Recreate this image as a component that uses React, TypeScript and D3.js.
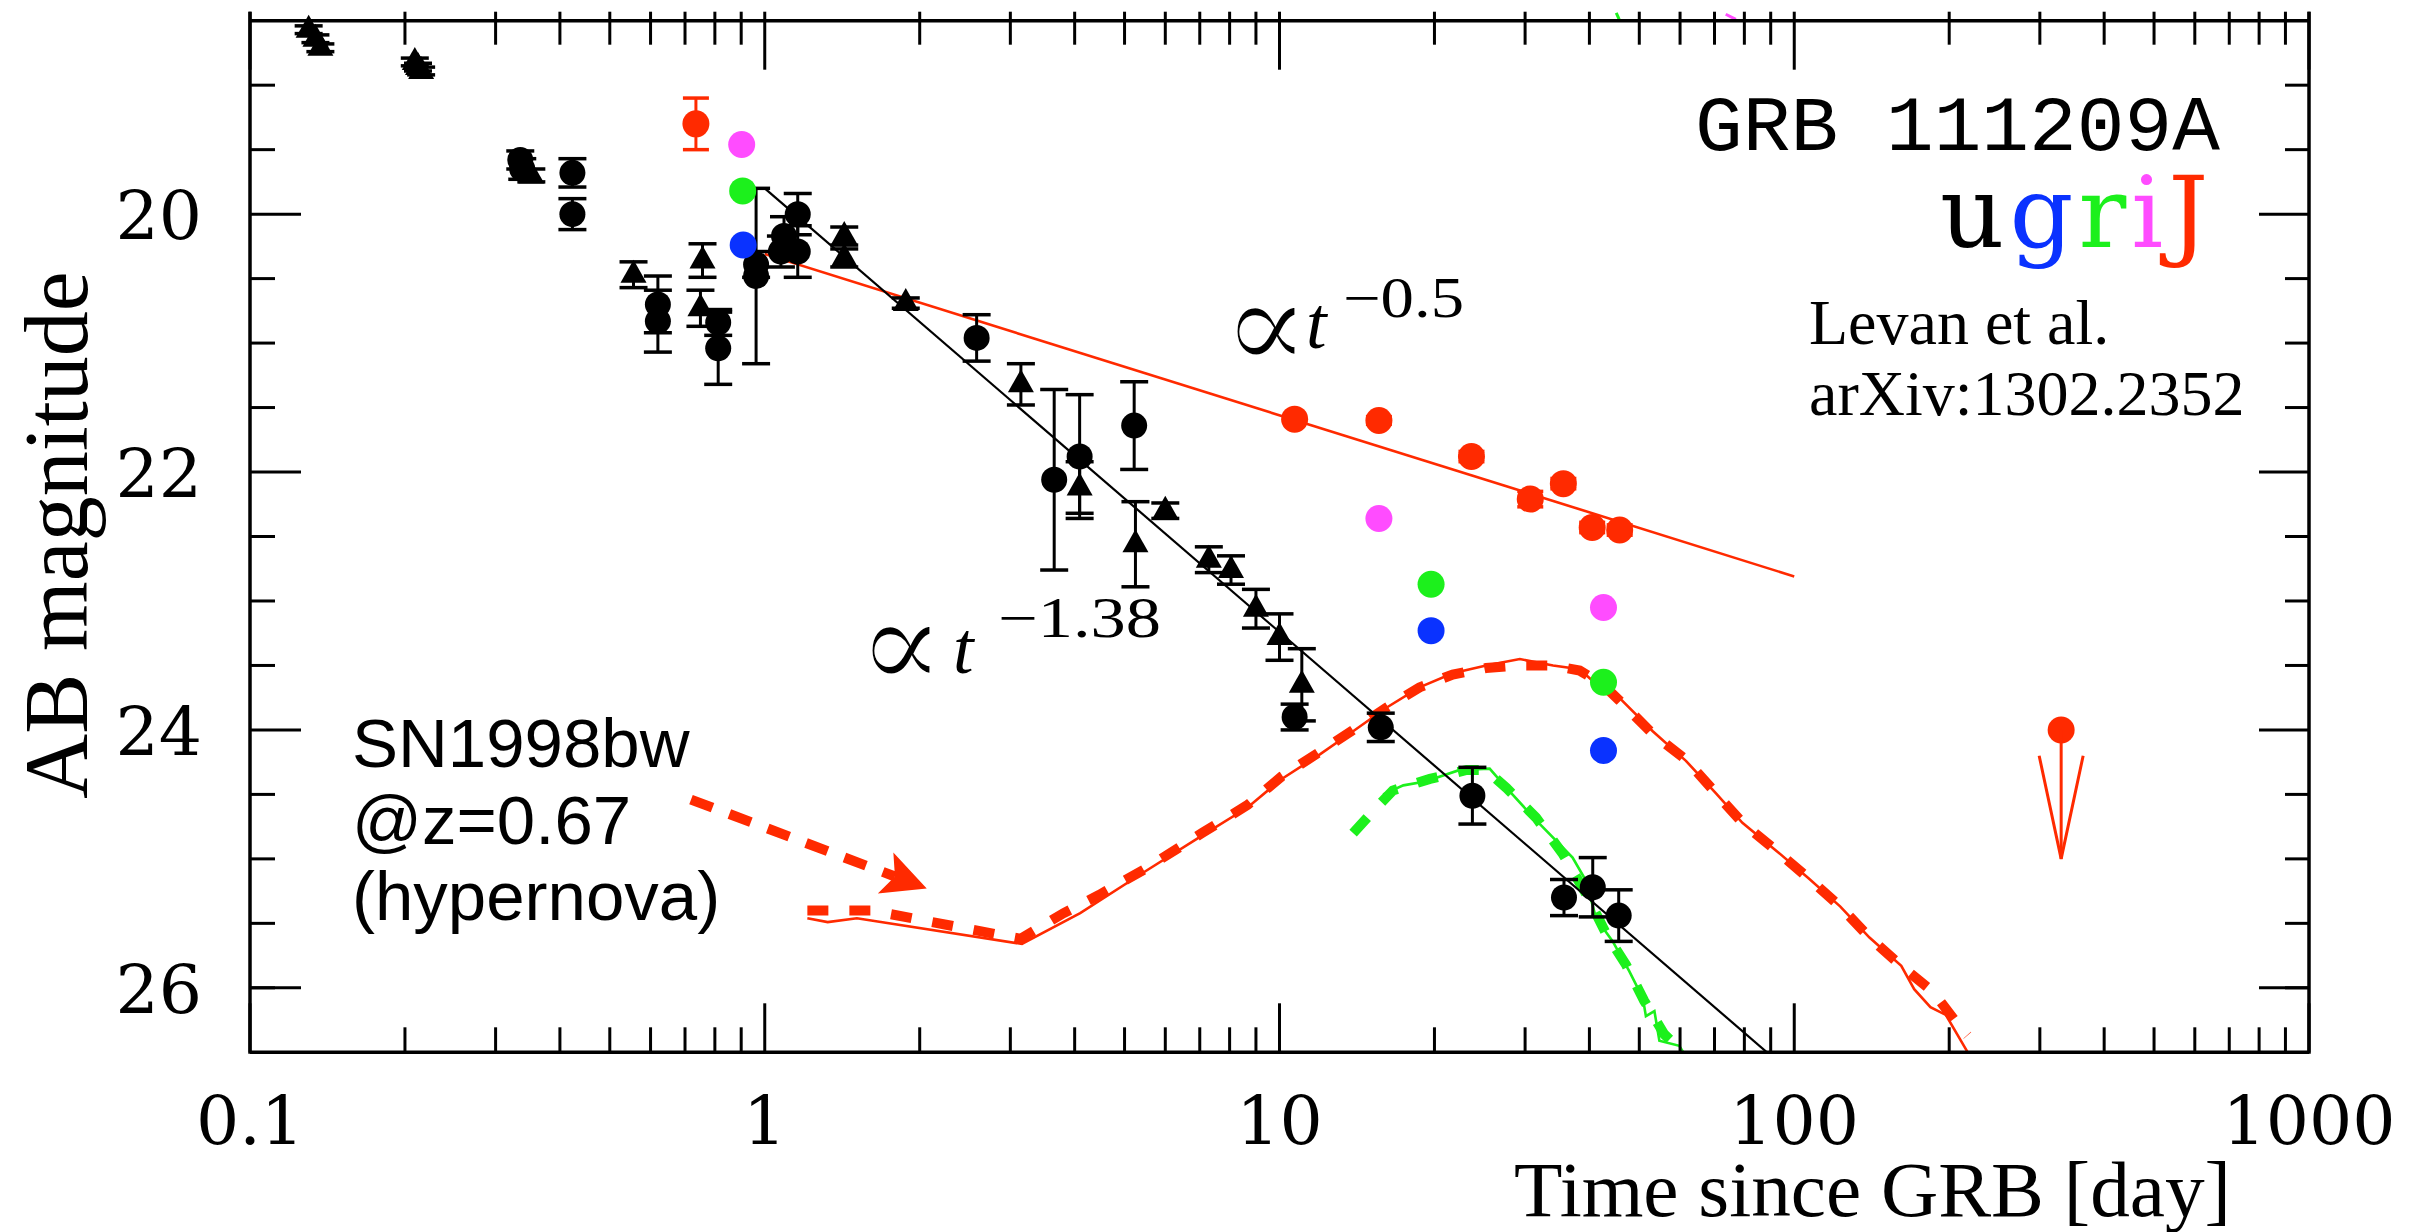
import React, { useEffect } from 'react';
import * as d3 from 'd3';

const W = 2432;
const H = 1232;

// ---- axes ----
const xDomain = [0.1, 1000];
const yDomain = [18.5, 26.5];
const xTickValues = [0.1, 1, 10, 100, 1000];
const xTickLabels = ['0.1', '1', '10', '100', '1000'];
const yTickValues = [20, 22, 24, 26];
const yTickLabels = ['20', '22', '24', '26'];
const yMinorValues = [19, 19.5, 20.5, 21, 21.5, 22.5, 23, 23.5, 24.5, 25, 25.5, 26];

// ---- black circles (afterglow) ----
const circT = [0.335, 0.338, 0.423, 0.423, 0.62, 0.62, 0.812, 0.812, 0.962, 0.962, 1.075, 1.09, 1.159, 1.159, 2.58, 3.65, 4.09, 5.22, 10.7, 15.73, 23.7, 35.7, 40.6, 45.6];
const circMag = [19.58, 19.65, 19.68, 20.0, 20.7, 20.83, 20.84, 21.04, 20.48, 20.39, 20.29, 20.17, 20.0, 20.29, 20.96, 22.06, 21.88, 21.64, 23.9, 23.98, 24.51, 25.3, 25.22, 25.44];
const circErr = [0.07, 0.08, 0.11, 0.12, 0.22, 0.24, 0.1, 0.28, 0.68, 0.1, 0.12, 0.15, 0.16, 0.2, 0.18, 0.7, 0.48, 0.34, 0.1, 0.11, 0.22, 0.14, 0.23, 0.2];

// ---- black triangles ----
const triT = [0.13, 0.134, 0.137, 0.209, 0.212, 0.215, 0.352, 0.556, 0.757, 0.75, 1.427, 1.427, 1.879, 3.145, 4.09, 5.25, 6.0, 7.29, 8.05, 9.0, 10.0, 11.05];
const triMag = [18.57, 18.64, 18.71, 18.82, 18.86, 18.89, 19.7, 20.47, 20.36, 20.73, 20.17, 20.34, 20.69, 21.32, 22.12, 22.56, 22.3, 22.68, 22.76, 23.06, 23.28, 23.65];
const triErr = [0.03, 0.03, 0.03, 0.03, 0.03, 0.03, 0.05, 0.1, 0.13, 0.14, 0.07, 0.07, 0.04, 0.16, 0.2, 0.33, 0.06, 0.1, 0.11, 0.15, 0.18, 0.28];

// ---- J band (red) ----
const jT = [0.735, 10.7, 15.6, 23.6, 30.7, 35.6, 40.5, 45.8];
const jMag = [19.3, 21.59, 21.6, 21.88, 22.21, 22.09, 22.43, 22.45];
const jErr = [0.2, 0, 0.03, 0.04, 0.06, 0.04, 0.04, 0.04];

// ---- i (magenta), r (green), g (blue) ----
const iT = [0.902, 15.6, 42.6];
const iMag = [19.46, 22.36, 23.05];
const rT = [0.906, 19.7, 42.6];
const rMag = [19.82, 22.87, 23.63];
const gT = [0.908, 19.7, 42.6];
const gMag = [20.24, 23.23, 24.16];

// ---- J upper limit ----
const ulT = [330];
const ulMag = [24.0];
const ulTo = [25.0];

// ---- power-law fits ----
const fitSteepT = [1.0, 88.5];
const fitSteepMag = [19.8, 26.5];
const fitShallowT = [1.0, 100];
const fitShallowMag = [20.31, 22.81];

// ---- SN1998bw @ z=0.67 templates ----
const snJDashT = [1.21, 1.61, 3.14, 3.81, 4.46, 5.47, 7.07, 8.68, 10.1, 11.98, 13.9, 16.1, 18.7, 21.7, 25.2, 29.3, 34.0, 38.3, 40.6, 42.5, 45.7, 53.1, 61.6, 70.4, 79.3, 92.5, 106.6, 122.9, 140, 161.4, 185.9, 209.4, 217];
const snJDashMag = [25.4, 25.4, 25.62, 25.42, 25.28, 25.08, 24.8, 24.58, 24.36, 24.17, 24.0, 23.83, 23.67, 23.57, 23.52, 23.5, 23.5, 23.54, 23.6, 23.65, 23.77, 24.03, 24.23, 24.49, 24.72, 24.94, 25.15, 25.37, 25.61, 25.83, 26.03, 26.3, 26.37];
const snJSolidT = [1.21, 1.325, 1.51, 3.16, 4.1, 5.47, 7.07, 8.68, 10.1, 11.98, 13.9, 16.1, 18.7, 21.7, 25.2, 29.3, 34.0, 38.3, 40.6, 42.5, 45.7, 53.1, 61.6, 70.4, 79.3, 92.5, 106.6, 122.9, 140, 161.4, 171, 183.9, 197, 218];
const snJSolidMag = [25.46, 25.49, 25.46, 25.66, 25.42, 25.1, 24.82, 24.6, 24.38, 24.19, 24.01, 23.83, 23.67, 23.56, 23.5, 23.45, 23.5, 23.53, 23.62, 23.63, 23.75, 24.01, 24.24, 24.49, 24.72, 24.94, 25.15, 25.37, 25.61, 25.83, 26.01, 26.15, 26.21, 26.51];
const snRDashT = [13.9, 15.2, 16.6, 19.6, 23.1, 25.2, 27.6, 31.5, 35.5, 39.4, 43.1, 47.1, 51.1, 55.9, 58];
const snRDashMag = [24.8, 24.63, 24.47, 24.38, 24.31, 24.31, 24.45, 24.68, 24.96, 25.27, 25.58, 25.82, 26.1, 26.36, 26.42];
const snRSolidT = [15.9, 17.4, 19.2, 22.4, 25.6, 27.6, 31.5, 37.1, 39.4, 41.2, 44.4, 47.8, 50.8, 51.5, 53.5, 54.7, 59.8, 61.1];
const snRSolidMag = [24.5, 24.43, 24.4, 24.31, 24.3, 24.45, 24.7, 24.99, 25.17, 25.46, 25.64, 25.87, 26.08, 26.22, 26.18, 26.41, 26.45, 26.51];
// tiny pieces of other template curves poking above the frame
const edgeRT = [45.1, 45.7];
const edgeRMag = [18.44, 18.49];
const edgeIT = [73.6, 77];
const edgeIMag = [18.45, 18.49];

// ---- annotation arrow (SN1998bw label) ----
const arrowT = [0.719, 2.064];
const arrowMag = [24.54, 25.23];

const RED = '#ff2a00';
const MAGENTA = '#ff4cff';
const GREEN = '#1cf01c';
const BLUE = '#0a32ff';

const zip = (a: number[], b: number[]) => a.map((v, i) => [v, b[i]] as [number, number]);

export default function App() {
  useEffect(() => {
    document.body.style.margin = '0';
    document.body.style.overflow = 'hidden';
  }, []);

  const x = d3.scaleLog().domain(xDomain).range([250, 2309]);
  const y = d3.scaleLinear().domain(yDomain).range([20.7, 1052.3]);
  const [x0, x1] = x.range();
  const [y0, y1] = y.range();

  const line = d3
    .line<[number, number]>()
    .x((d) => x(d[0]))
    .y((d) => y(d[1]));

  const xMinor: number[] = [];
  for (let dec = 0.1; dec < 1000; dec *= 10) {
    for (let k = 2; k <= 9; k++) xMinor.push(+(dec * k).toPrecision(3));
  }

  const errBar = (t: number, m: number, e: number, color: string, key: string, cap = 14) => {
    if (!e) return null;
    const cx = x(t);
    const ya = y(m - e);
    const yb = y(m + e);
    return (
      <g key={key} stroke={color} strokeWidth={3}>
        <line x1={cx} x2={cx} y1={ya} y2={yb} />
        <line x1={cx - cap} x2={cx + cap} y1={ya} y2={ya} strokeWidth={3.5} />
        <line x1={cx - cap} x2={cx + cap} y1={yb} y2={yb} strokeWidth={3.5} />
      </g>
    );
  };

  const tri = (cx: number, cy: number) =>
    `M${cx},${cy - 15}L${cx + 13},${cy + 8}L${cx - 13},${cy + 8}Z`;

  const ax0 = x(arrowT[0]);
  const ay0 = y(arrowMag[0]);
  const ax1 = x(arrowT[1]);
  const ay1 = y(arrowMag[1]);
  const alen = Math.hypot(ax1 - ax0, ay1 - ay0);
  const ux = (ax1 - ax0) / alen;
  const uy = (ay1 - ay0) / alen;
  const px = -uy;
  const py = ux;
  const headL = 44;
  const headW = 22;
  const notch = 34;
  const headPath = `M${ax1},${ay1}L${ax1 - headL * ux + headW * px},${ay1 - headL * uy + headW * py}L${ax1 - notch * ux},${ay1 - notch * uy}L${ax1 - headL * ux - headW * px},${ay1 - headL * uy - headW * py}Z`;

  const serif = '"Liberation Serif", "Times New Roman", serif';
  const tickFont = '"DejaVu Serif", serif';

  return (
    <svg
      width={W}
      height={H}
      viewBox={`0 0 ${W} ${H}`}
      style={{ position: 'absolute', left: 0, top: 0, background: '#fff' }}
    >
      <defs>
        <clipPath id="plotClip">
          <rect x={x0} y={y0} width={x1 - x0} height={y1 - y0} />
        </clipPath>
      </defs>
      <rect x={0} y={0} width={W} height={H} fill="#fff" />

      <g clipPath="url(#plotClip)" fill="none">
        <path d={line(zip(snJSolidT, snJSolidMag)) || ''} stroke={RED} strokeWidth={2.6} />
        <path d={line(zip(snJDashT, snJDashMag)) || ''} stroke={RED} strokeWidth={10} strokeDasharray="21 21" />
        <path d={line(zip(snRSolidT, snRSolidMag)) || ''} stroke={GREEN} strokeWidth={2.6} />
        <path d={line(zip(snRDashT, snRDashMag)) || ''} stroke={GREEN} strokeWidth={10} strokeDasharray="21 21" />
        <path d={line(zip(fitShallowT, fitShallowMag)) || ''} stroke={RED} strokeWidth={2.6} />
        <path d={line(zip(fitSteepT, fitSteepMag)) || ''} stroke="#000" strokeWidth={2.2} />
      </g>
      <path d={line(zip(edgeRT, edgeRMag)) || ''} stroke={GREEN} strokeWidth={3} fill="none" />
      <path d={line(zip(edgeIT, edgeIMag)) || ''} stroke={MAGENTA} strokeWidth={3} fill="none" />

      {circT.map((t, i) => errBar(t, circMag[i], circErr[i], '#000', `ce${i}`))}
      {triT.map((t, i) => errBar(t, triMag[i], triErr[i], '#000', `te${i}`))}
      {jT.map((t, i) => errBar(t, jMag[i], jErr[i], RED, `je${i}`, 13))}

      {circT.map((t, i) => (
        <circle key={`c${i}`} cx={x(t)} cy={y(circMag[i])} r={13} fill="#000" />
      ))}
      {triT.map((t, i) => (
        <path key={`t${i}`} d={tri(x(t), y(triMag[i]))} fill="#000" />
      ))}
      {jT.map((t, i) => (
        <circle key={`j${i}`} cx={x(t)} cy={y(jMag[i])} r={13.5} fill={RED} />
      ))}
      {iT.map((t, i) => (
        <circle key={`i${i}`} cx={x(t)} cy={y(iMag[i])} r={13.5} fill={MAGENTA} />
      ))}
      {rT.map((t, i) => (
        <circle key={`r${i}`} cx={x(t)} cy={y(rMag[i])} r={13.5} fill={GREEN} />
      ))}
      {gT.map((t, i) => (
        <circle key={`g${i}`} cx={x(t)} cy={y(gMag[i])} r={13.5} fill={BLUE} />
      ))}

      {ulT.map((t, i) => {
        const cx = x(t);
        const cy = y(ulMag[i]);
        const tipY = y(ulTo[i]);
        const wingY = y(ulMag[i] + 0.2);
        return (
          <g key={`ul${i}`} stroke={RED} strokeWidth={3} fill="none">
            <circle cx={cx} cy={cy} r={13.5} fill={RED} stroke="none" />
            <line x1={cx} x2={cx} y1={cy} y2={tipY} />
            <polyline points={`${cx - 22},${wingY} ${cx},${tipY} ${cx + 22},${wingY}`} strokeLinejoin="miter" />
          </g>
        );
      })}

      <g stroke="#000" fill="none">
        <line x1={x0} x2={x1} y1={y0} y2={y0} strokeWidth={3.5} />
        <line x1={x0} x2={x1} y1={y1} y2={y1} strokeWidth={3.5} />
        <line x1={x0} x2={x0} y1={y0 - 9} y2={y1 + 1.5} strokeWidth={3.5} />
        <line x1={x1} x2={x1} y1={y0 - 9} y2={y1 + 1.5} strokeWidth={3.5} />
        {xTickValues.map((v) => (
          <g key={`xt${v}`} strokeWidth={3}>
            <line x1={x(v)} x2={x(v)} y1={y1} y2={y1 - 49} />
            <line x1={x(v)} x2={x(v)} y1={y0 - 9} y2={y0 + 49} />
          </g>
        ))}
        {xMinor.map((v) => (
          <g key={`xm${v}`} strokeWidth={3}>
            <line x1={x(v)} x2={x(v)} y1={y1} y2={y1 - 25} />
            <line x1={x(v)} x2={x(v)} y1={y0 - 9} y2={y0 + 24} />
          </g>
        ))}
        {yTickValues.map((v) => (
          <g key={`yt${v}`} strokeWidth={3}>
            <line x1={x0} x2={x0 + 51} y1={y(v)} y2={y(v)} />
            <line x1={x1} x2={x1 - 50} y1={y(v)} y2={y(v)} />
          </g>
        ))}
        {yMinorValues.map((v) => (
          <g key={`ym${v}`} strokeWidth={3}>
            <line x1={x0} x2={x0 + 25} y1={y(v)} y2={y(v)} />
            <line x1={x1} x2={x1 - 24} y1={y(v)} y2={y(v)} />
          </g>
        ))}
      </g>

      <g fontFamily={tickFont} fontSize={68} fill="#000">
        {xTickValues.map((v, i) => (
          <text key={`xl${v}`} x={x(v)} y={1144} textAnchor="middle">
            {xTickLabels[i]}
          </text>
        ))}
        {yTickValues.map((v, i) => (
          <text key={`yl${v}`} x={202} y={y(v) + 25} textAnchor="end">
            {yTickLabels[i]}
          </text>
        ))}
      </g>

      <text x={2231} y={1216} textAnchor="end" fontFamily={serif} fontSize={78} textLength={717} lengthAdjust="spacingAndGlyphs">
        Time since GRB [day]
      </text>
      <text
        transform="translate(87,535) rotate(-90)"
        textAnchor="middle"
        fontFamily={serif}
        fontSize={90}
      >
        AB magnitude
      </text>

      <text x={1695} y={150} fontFamily='"Liberation Mono", monospace' fontSize={78} textLength={525} lengthAdjust="spacingAndGlyphs">
        GRB 111209A
      </text>
      <text x={1940} y={247} fontFamily={tickFont} fontSize={100} letterSpacing={5}>
        <tspan fill="#000">u</tspan>
        <tspan fill={BLUE}>g</tspan>
        <tspan fill={GREEN}>r</tspan>
        <tspan fill={MAGENTA}>i</tspan>
        <tspan fill={RED}>J</tspan>
      </text>
      <text x={1809} y={344} fontFamily={serif} fontSize={64}>
        Levan et al.
      </text>
      <text x={1809} y={415} fontFamily={serif} fontSize={64}>
        arXiv:1302.2352
      </text>

      <g fontFamily={serif}>
        <text x={1222} y={370} fontSize={130} fontFamily={tickFont} stroke="#fff" strokeWidth={3}>∝</text>
        <text x={1306} y={348} fontSize={74} fontStyle="italic">t</text>
        <text x={1343} y={317} fontSize={56} textLength={121} lengthAdjust="spacingAndGlyphs">−0.5</text>
        <text x={857} y={689} fontSize={130} fontFamily={tickFont} stroke="#fff" strokeWidth={3}>∝</text>
        <text x={953} y={673} fontSize={74} fontStyle="italic">t</text>
        <text x={998} y={637} fontSize={56} textLength={163} lengthAdjust="spacingAndGlyphs">−1.38</text>
      </g>

      <g fontFamily='"Liberation Sans", Arial, sans-serif' fontSize={69} fill="#000">
        <text x={352} y={767}>SN1998bw</text>
        <text x={352} y={844}>@z=0.67</text>
        <text x={352} y={920}>(hypernova)</text>
      </g>
      <line
        x1={ax0}
        y1={ay0}
        x2={ax1 - notch * ux}
        y2={ay1 - notch * uy}
        stroke={RED}
        strokeWidth={10}
        strokeDasharray="23 18"
      />
      <path d={headPath} fill={RED} />
    </svg>
  );
}
